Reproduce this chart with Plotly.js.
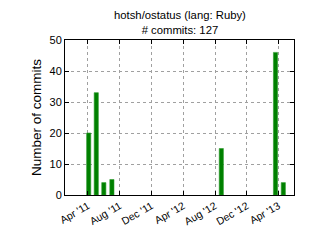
<!DOCTYPE html>
<html>
<head>
<meta charset="utf-8">
<script src="https://cdn.plot.ly/plotly-3.0.1.min.js"></script>
<style>html,body{margin:0;padding:0;background:#fff;}</style>
</head>
<body>
<div id="chart" style="width:327px;height:245px;"></div>
<script>
var dates = ["2011-04-04", "2011-05-03", "2011-06-01", "2011-07-02", "2012-08-25", "2013-03-21", "2013-04-20"];
var commits = [20, 33, 4, 5, 15, 46, 4];
var tickVals = ["2011-04-01", "2011-08-01", "2011-12-01", "2012-04-01", "2012-08-01", "2012-12-01", "2013-04-01"];
var tickText = ["Apr '11", "Aug '11", "Dec '11", "Apr '12", "Aug '12", "Dec '12", "Apr '13"];
var titleText = "hotsh/ostatus (lang: Ruby)<br># commits: 127";
var yTitle = "Number of commits";

var DAY = 86400000;
var font = "Liberation Sans, Arial, Helvetica, sans-serif";

var trace = {
  type: "bar",
  x: dates,
  y: commits,
  width: dates.map(function(){ return 16 * DAY; }),
  marker: {color: "#008000", line: {color: "#2a9a2a", width: 0.6}},
  hoverinfo: "x+y"
};

var layout = {
  width: 327,
  height: 245,
  margin: {l: 65, r: 33, t: 40, b: 50},
  paper_bgcolor: "#ffffff",
  plot_bgcolor: "#ffffff",
  showlegend: false,
  font: {family: font, size: 10, color: "#000"},
  annotations: [{
    text: titleText,
    xref: "paper", yref: "paper",
    x: 0.5, y: 1,
    xanchor: "center", yanchor: "bottom",
    yshift: 2,
    showarrow: false,
    align: "center",
    font: {family: font, size: 11.3, color: "#000"}
  }],
  xaxis: {
    type: "date",
    range: ["2011-01-03", "2013-05-31"],
    tickmode: "array",
    tickvals: tickVals,
    ticktext: tickText,
    tickangle: -30,
    ticks: "inside",
    ticklen: 4,
    tickcolor: "#000",
    tickfont: {family: font, size: 10.5, color: "#000"},
    showgrid: true,
    gridcolor: "#a0a0a0",
    griddash: "dot",
    gridwidth: 1,
    showline: true,
    linecolor: "#000",
    linewidth: 1,
    mirror: "allticks",
    zeroline: false,
    fixedrange: true
  },
  yaxis: {
    range: [0, 50],
    tickmode: "array",
    tickvals: [0, 10, 20, 30, 40, 50],
    ticktext: ["0", "10", "20", "30", "40", "50"],
    ticks: "inside",
    ticklen: 4,
    tickcolor: "#000",
    tickfont: {family: font, size: 11, color: "#000"},
    showgrid: true,
    gridcolor: "#a0a0a0",
    griddash: "dot",
    gridwidth: 1,
    showline: true,
    linecolor: "#000",
    linewidth: 1,
    mirror: "allticks",
    zeroline: false,
    title: {text: yTitle, font: {family: font, size: 13.5, color: "#000"}, standoff: 4},
    fixedrange: true
  },
  bargap: 0
};

Plotly.newPlot("chart", [trace], layout, {displayModeBar: false, staticPlot: true});
</script>
</body>
</html>
